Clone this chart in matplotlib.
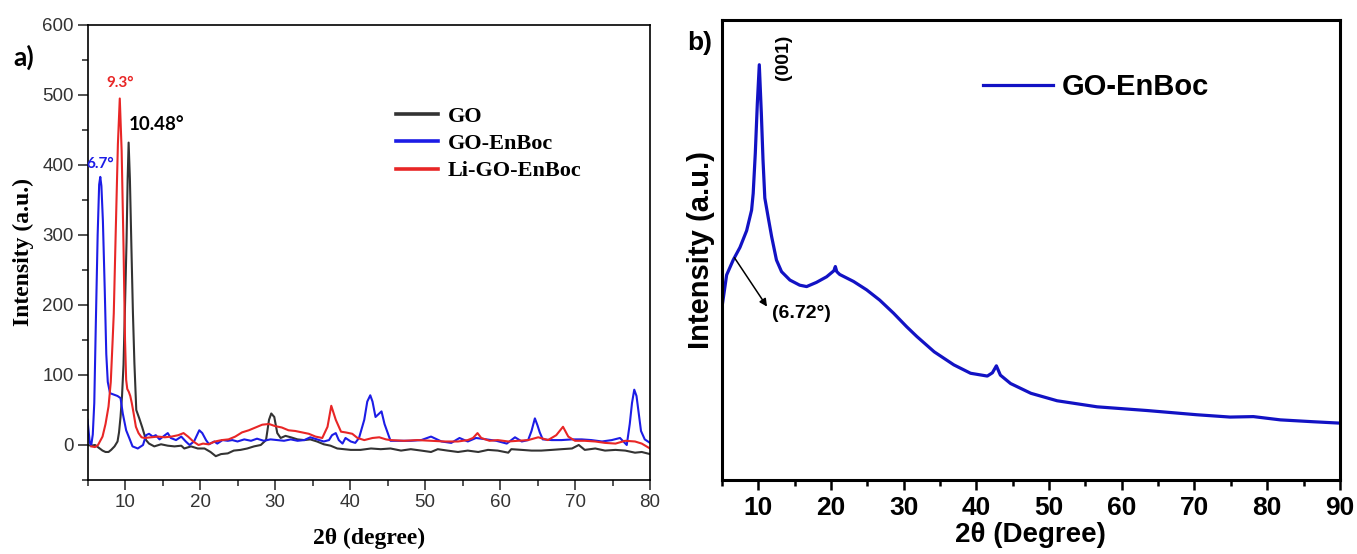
import matplotlib
matplotlib.use("Agg")
import matplotlib.pyplot as plt

plt.rcParams["font.family"] = ["Liberation Sans", "DejaVu Sans"]

# ---------------- panel a) XRD patterns ----------------
go_x = [5.0, 5.5, 6.0, 6.5, 7.0, 7.4, 7.8, 8.15, 8.6, 9.0, 9.2, 9.4, 9.6, 9.8, 10.0,
        10.2, 10.35, 10.48, 10.65, 10.85, 11.05, 11.25, 11.5, 11.9, 12.3, 12.8, 13.2,
        13.9, 14.8, 15.7, 16.6, 17.5, 17.9, 18.8, 19.7, 20.6, 21.4, 22.1, 22.8, 23.7,
        24.5, 25.4, 26.3, 27.2, 28.1, 28.8, 29.2, 29.5, 29.9, 30.3, 30.75, 31.4, 32.1,
        33.0, 33.9, 34.7, 35.6, 36.5, 37.4, 38.3, 39.2, 40.1, 41.4, 42.8, 44.1, 45.4,
        46.8, 48.1, 49.5, 50.8, 51.7, 53.0, 54.4, 55.7, 57.1, 58.4, 59.7, 61.1, 61.5,
        62.9, 64.2, 65.5, 66.9, 68.2, 69.6, 70.5, 71.3, 72.7, 74.0, 75.4, 76.7, 78.0,
        78.9, 80.0]
go_y = [0, -1, 0, -4, -8, -10, -10, -7, -2, 5, 18, 40, 70, 115, 200,
        290, 380, 432, 380, 283, 190, 117, 50, 38, 25, 7, 2,
        -2, 1, -1, -2, -1, -5, -2, -5, -5, -10, -16, -13, -12,
        -8, -7, -5, -2, 0, 7, 36, 45, 40, 17, 10, 13, 11,
        8, 7, 8, 5, 1, -1, -5, -6, -7, -7, -5, -6, -5,
        -8, -6, -8, -10, -6, -8, -10, -8, -10, -7, -8, -11, -6,
        -7, -8, -8, -7, -6, -5, 0, -7, -5, -8, -7, -8, -11,
        -10, -13]

enboc_x = [5.0, 5.3, 5.5, 5.7, 5.9, 6.1, 6.35, 6.55, 6.7, 6.85, 7.05, 7.3, 7.5, 7.7,
           8.0, 8.5, 9.0, 9.4, 9.7, 10.15, 10.6, 11.0, 11.7, 12.4, 12.8, 13.2, 13.7,
           14.1, 14.6, 15.2, 15.7, 16.1, 16.8, 17.5, 18.1, 18.6, 19.2, 19.9, 20.3,
           20.8, 21.2, 21.9, 22.3, 23.0, 23.7, 24.3, 25.0, 25.9, 26.8, 27.6, 28.5,
           29.4, 30.3, 31.2, 32.1, 33.0, 33.9, 34.7, 35.6, 36.5, 37.2, 37.6, 38.1,
           38.5, 39.0, 39.4, 40.1, 40.7, 41.2, 41.9, 42.3, 42.7, 43.0, 43.4, 43.8,
           44.2, 44.6, 45.0, 45.4, 46.8, 48.1, 49.5, 50.8, 52.2, 53.5, 54.6, 55.7,
           56.8, 58.2, 59.5, 60.9, 62.0, 62.9, 63.75, 64.2, 64.65, 65.0, 65.3, 65.7,
           66.9, 68.2, 69.6, 70.9, 72.2, 73.6, 74.9, 76.0, 76.9, 77.3, 77.6, 77.9,
           78.2, 78.5, 78.8, 79.3, 80.0]
enboc_y = [36, 3, 0, 15, 60, 170, 300, 372, 383, 370, 320, 220, 130, 90,
           74, 72, 70, 67, 45, 21, 9, -2, -5, 0, 14, 16, 12,
           14, 8, 13, 17, 10, 7, 12, 5, 0, 5, 21, 17,
           7, 1, 5, 2, 7, 6, 7, 5, 8, 6, 9, 6,
           8, 7, 6, 8, 6, 7, 11, 8, 5, 7, 14, 17,
           7, 2, 10, 5, 3, 10, 36, 62, 71, 62, 40, 44,
           48, 30, 18, 6, 6, 6, 7, 12, 5, 3, 10, 5,
           10, 8, 6, 2, 11, 5, 7, 20, 38, 28, 18, 8,
           7, 7, 8, 8, 7, 5, 7, 10, 0, 30, 60, 79,
           70, 45, 20, 8, 3]

li_x = [5.5, 6.0, 6.4, 7.0, 7.4, 7.8, 8.1, 8.35, 8.5, 8.75, 9.05, 9.3, 9.55, 9.8,
        10.0, 10.15, 10.3, 10.5, 10.7, 10.9, 11.15, 11.45, 11.8, 12.2, 12.6, 13.5,
        14.4, 15.3, 16.2, 17.1, 17.8, 18.4, 19.1, 19.8, 20.4, 21.1, 22.0, 22.9, 23.8,
        24.7, 25.6, 26.5, 27.4, 28.3, 29.2, 30.0, 30.9, 31.8, 32.7, 33.6, 34.5, 35.4,
        36.3, 37.0, 37.5, 38.1, 38.8, 39.4, 40.3, 41.0, 41.9, 43.0, 43.9, 44.8, 45.4,
        47.2, 49.0, 50.8, 52.6, 54.4, 55.7, 56.4, 57.0, 57.5, 58.6, 59.7, 61.1, 62.4,
        63.75, 65.1, 66.4, 67.5, 68.4, 69.1, 70.0, 71.3, 72.7, 74.0, 75.4, 76.7, 78.0,
        78.9, 80.0]
li_y = [-2, -3, 0, 12, 30, 55, 90, 150, 188, 300, 430, 495, 420, 283,
        150, 93, 80, 76, 70, 60, 45, 26, 17, 11, 10, 11,
        12, 11, 12, 14, 17, 12, 5, 0, 2, 1, 5, 7, 8,
        12, 18, 21, 25, 29, 30, 27, 25, 21, 20, 18, 16, 12,
        10, 26, 56, 36, 19, 18, 16, 10, 7, 10, 11, 8, 7,
        6, 7, 6, 5, 5, 7, 10, 17, 10, 6, 7, 5, 6,
        7, 11, 7, 14, 26, 12, 6, 6, 5, 3, 2, 6, 5,
        2, -5]

series_names = ["GO", "GO-EnBoc", "Li-GO-EnBoc"]
peak_positions = [10.48, 6.7, 9.3]      # 2theta of the main reflection of each sample

# ---------------- panel b) GO-EnBoc pattern ----------------
b_x = [5.0, 5.65, 6.55, 6.72, 7.48, 8.4, 9.08, 9.3, 9.59, 9.87, 10.14, 10.42, 10.65,
       10.9, 11.37, 11.84, 12.5, 13.2, 14.35, 15.7, 16.65, 18.0, 19.4, 20.4, 20.6,
       20.8, 21.2, 23.1, 24.9, 26.7, 28.6, 30.4, 31.8, 34.2, 36.9, 39.2, 41.5, 42.2,
       42.75, 43.3, 44.7, 47.5, 51.1, 56.6, 63.5, 70.3, 74.9, 78.1, 81.8, 86.3, 90.0]
b_y = [385, 455, 487, 492, 514, 550, 594, 630, 716, 823, 906, 802, 702,
       620, 578, 537, 487, 462, 444, 433, 430, 439, 451, 464, 473,
       462, 456, 441, 423, 401, 373, 344, 323, 290, 262, 244, 238, 245,
       260, 240, 222, 201, 185, 172, 164, 155, 150, 151, 144, 140, 137]
b_shoulder = 6.72

a_xticks = [10, 20, 30, 40, 50, 60, 70, 80]
a_yticks = [0, 100, 200, 300, 400, 500, 600]
b_xticks = [10, 20, 30, 40, 50, 60, 70, 80, 90]

C_GO = "#333333"
C_EN = "#1c1ce6"
C_LI = "#e82626"
C_B = "#1212c4"

fig = plt.figure(figsize=(13.57, 5.54), dpi=100)

# ---------- a) ----------
ax1 = fig.add_axes([0.0645, 0.1336, 0.4145, 0.8213])
l_go, = ax1.plot(go_x, go_y, color=C_GO, lw=1.5, label=series_names[0])
l_en, = ax1.plot(enboc_x, enboc_y, color=C_EN, lw=1.5, label=series_names[1])
l_li, = ax1.plot(li_x, li_y, color=C_LI, lw=1.5, label=series_names[2])
ax1.set_xlim(5, 80)
ax1.set_ylim(-50, 600)
ax1.set_xticks(a_xticks)
ax1.set_xticks([x + 5 for x in [0] + a_xticks[:-1]], minor=True)
ax1.set_yticks(a_yticks)
ax1.set_yticks([y + 50 for y in [-100] + a_yticks[:-1]], minor=True)
ax1.tick_params(which="both", direction="out", top=False, right=False,
                width=1.1, colors="#222222", labelcolor="#333333")
ax1.tick_params(which="major", length=7, labelsize=13.5, pad=3)
ax1.tick_params(which="minor", length=4.3)
for s in ax1.spines.values():
    s.set_linewidth(1.2)

serif_b = dict(family=["Liberation Serif", "DejaVu Serif"], weight="bold")
ax1.set_xlabel("2θ (degree)", fontsize=17, labelpad=12, **serif_b)
ax1.set_ylabel("Intensity (a.u.)", fontsize=17, labelpad=6, **serif_b)

leg1 = ax1.legend(handles=[l_go, l_en, l_li], loc="upper left",
                  bbox_to_anchor=(0.548, 0.822), frameon=False, borderpad=0,
                  borderaxespad=0, handlelength=1.9, handletextpad=0.45,
                  labelspacing=0.31,
                  prop=dict(family="Liberation Serif", weight="bold", size=16))
for h in leg1.get_lines():
    h.set_linewidth(2.6)

# peak position labels
ann = dict(family=["Lato", "DejaVu Sans"], weight="bold")
pk_go = max(go_y)
pk_en = max(enboc_y)
pk_li = max(li_y)
ax1.annotate(f"{peak_positions[1]}°", xy=(peak_positions[1], pk_en), xytext=(0, 4),
             textcoords="offset points", ha="center", va="bottom",
             color=C_EN, fontsize=11, **ann)
ax1.annotate(f"{peak_positions[2]}°", xy=(peak_positions[2], pk_li), xytext=(0, 6),
             textcoords="offset points", ha="center", va="bottom",
             color=C_LI, fontsize=11, **ann)
ax1.annotate(f"{peak_positions[0]}°", xy=(peak_positions[0], pk_go), xytext=(0, 7),
             textcoords="offset points", ha="left", va="bottom",
             color="black", fontsize=13.5, **ann)

fig.text(0.0177, 0.896, "a)", fontsize=19, weight="bold", ha="center", va="center",
         family=["Lato", "DejaVu Sans"])

# ---------- b) ----------
ax2 = fig.add_axes([0.532, 0.1336, 0.4554, 0.8303])
l_b, = ax2.plot(b_x, b_y, color=C_B, lw=2.3, label="GO-EnBoc")
ax2.set_xlim(5, 90)
ax2.set_ylim(15, 1002)
ax2.set_yticks([])
ax2.set_xticks(b_xticks)
ax2.set_xticks([x - 5 for x in b_xticks], minor=True)
ax2.tick_params(axis="x", which="both", direction="out", top=False, width=1.8)
ax2.tick_params(axis="x", which="major", length=7.2, labelsize=19, pad=4)
ax2.tick_params(axis="x", which="minor", length=4.3)
for lbl in ax2.get_xticklabels():
    lbl.set_fontweight("bold")
for s in ax2.spines.values():
    s.set_linewidth(2.2)

ax2.set_xlabel("2θ (Degree)", fontsize=20, weight="bold")
ax2.xaxis.set_label_coords(0.5, -0.091)
ax2.set_ylabel("Intensity (a.u.)", fontsize=21, weight="bold", labelpad=5)

ax2.legend(handles=[l_b], loc="center left", bbox_to_anchor=(0.422, 0.854),
           frameon=False, borderpad=0, borderaxespad=0, handlelength=2.4,
           handletextpad=0.3, prop=dict(weight="bold", size=21))

i_pk = b_y.index(max(b_y))
ax2.text(b_x[i_pk] + 3.3, 923, "(001)", rotation=90, ha="center", va="center",
         fontsize=14, weight="bold")

i_sh = b_x.index(b_shoulder)
ax2.annotate("", xy=(11.2, 387), xytext=(b_x[i_sh], b_y[i_sh]),
             arrowprops=dict(arrowstyle="-|>", color="black", lw=1.1,
                             mutation_scale=11, shrinkA=0, shrinkB=0))
ax2.text(11.95, 373, f"({b_shoulder}°)", ha="left", va="center",
         fontsize=14, weight="bold")

fig.text(0.5157, 0.922, "b)", fontsize=19, weight="bold", ha="center", va="center")

fig.savefig("out.png", dpi=100)
